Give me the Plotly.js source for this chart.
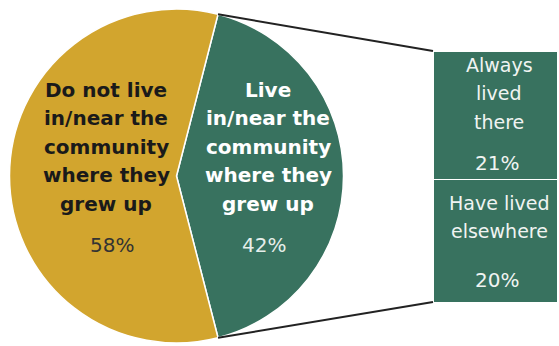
<!DOCTYPE html>
<html>
<head>
<meta charset="utf-8">
<script src="https://cdn.plot.ly/plotly-3.0.1.min.js"></script>
<style>html,body{margin:0;padding:0;background:#fff;}#chart{width:559px;height:346px;}</style>
</head>
<body>
<div id="chart"></div>
<script>
// ---- data ----
const pieCategories = ["Live<br>in/near the<br>community<br>where they<br>grew up", "Do not live<br>in/near the<br>community<br>where they<br>grew up"];
const pieValues = [42, 58];
const barCategories = ["Have lived<br>elsewhere", "Always<br>lived<br>there"];
const barValues = [20, 21];

// ---- style / layout constants ----
const W = 559, H = 346;
const teal = "#38725F", gold = "#D2A52E";
const pieBox = {l: 9.5, r: 343.5, t: 9, b: 343};
const barBox = {l: 433, r: 557, t: 51, b: 302};
const FONT = "DejaVu Sans, sans-serif";
const LS = 28.4;
const px = x => x / W;
const py = y => 1 - y / H;

const total = pieValues.reduce((a, b) => a + b, 0);
const tealHalf = 360 * pieValues[0] / total / 2;
const barTotal = barValues.reduce((a, b) => a + b, 0);

const data = [
  {
    type: "pie",
    values: pieValues,
    labels: pieCategories,
    sort: false,
    direction: "clockwise",
    rotation: 90 - tealHalf,
    marker: {colors: [teal, gold], line: {color: "#ffffff", width: 1.5}},
    textinfo: "none",
    hoverinfo: "skip",
    showlegend: false,
    domain: {x: [px(pieBox.l), px(pieBox.r)], y: [py(pieBox.b), py(pieBox.t)]}
  }
];
barValues.forEach((v, i) => {
  data.push({
    type: "bar",
    x: [0],
    y: [v],
    width: 1,
    name: barCategories[i],
    xaxis: "x2",
    yaxis: "y2",
    marker: {color: teal, line: {color: "#ffffff", width: 1}},
    hoverinfo: "skip",
    showlegend: false
  });
});

const annotations = [];
function addLines(text, xPix, yPix, font) {
  text.split("<br>").forEach((ln, i) => {
    annotations.push({
      text: ln, xref: "paper", yref: "paper", x: px(xPix), y: py(yPix + i * LS),
      xanchor: "center", yanchor: "middle", showarrow: false, font: font
    });
  });
}
// pie labels
const pieLabelPos = [{x: 268, y: 90, px: 264, py: 245, c: "#ffffff", pc: "#e6eeea"},
                     {x: 106, y: 90, px: 112, py: 245, c: "#1a1a1a", pc: "#333333"}];
pieCategories.forEach((t, i) => {
  const p = pieLabelPos[i];
  addLines(t, p.x, p.y, {family: FONT, size: 20, color: p.c, weight: "bold"});
  addLines(pieValues[i] + "%", p.px, p.py, {family: FONT, size: 20, color: p.pc});
});
// bar labels
const barLabelPos = [{y: 203, py: 280}, {y: 65, py: 163}];
barCategories.forEach((t, i) => {
  const p = barLabelPos[i];
  addLines(t, 499, p.y, {family: FONT, size: 19, color: "#f0f4f2"});
  addLines(barValues[i] + "%", 497, p.py, {family: FONT, size: 20, color: "#f0f4f2"});
});

// connector lines from pie slice edge to stacked bar corners
const cx = (pieBox.l + pieBox.r) / 2, cy = (pieBox.t + pieBox.b) / 2;
const r = Math.min(pieBox.r - pieBox.l, pieBox.b - pieBox.t) / 2;
const a = tealHalf * Math.PI / 180;
const topPt = [cx + r * Math.cos(a), cy - r * Math.sin(a)];
const botPt = [cx + r * Math.cos(a), cy + r * Math.sin(a)];
const shapes = [
  {type: "line", xref: "paper", yref: "paper", x0: px(topPt[0]), y0: py(topPt[1]), x1: px(barBox.l), y1: py(barBox.t), line: {color: "#222222", width: 2}},
  {type: "line", xref: "paper", yref: "paper", x0: px(botPt[0]), y0: py(botPt[1]), x1: px(barBox.l), y1: py(barBox.b), line: {color: "#222222", width: 2}}
];

const layout = {
  width: W, height: H,
  margin: {l: 0, r: 0, t: 0, b: 0},
  paper_bgcolor: "#ffffff", plot_bgcolor: "rgba(0,0,0,0)",
  barmode: "stack", bargap: 0,
  showlegend: false,
  xaxis2: {domain: [px(barBox.l), px(barBox.r)], range: [-0.5, 0.5], visible: false, fixedrange: true, anchor: "y2"},
  yaxis2: {domain: [py(barBox.b), py(barBox.t)], range: [0, barTotal], visible: false, fixedrange: true, anchor: "x2"},
  xaxis: {visible: false}, yaxis: {visible: false},
  annotations: annotations,
  shapes: shapes
};

Plotly.newPlot("chart", data, layout, {displayModeBar: false, staticPlot: true});
</script>
</body>
</html>
